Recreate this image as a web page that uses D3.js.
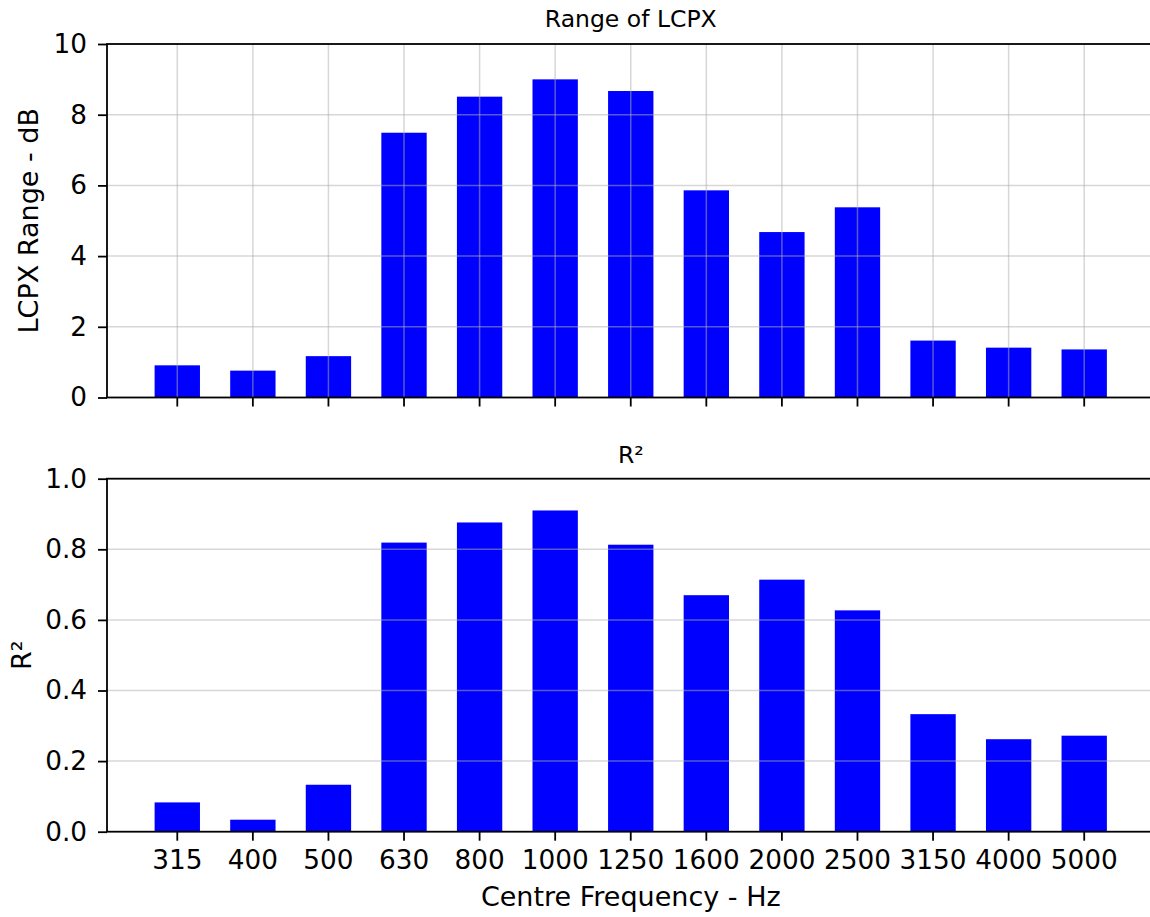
<!DOCTYPE html>
<html>
<head>
<meta charset="utf-8">
<script src="https://cdn.jsdelivr.net/npm/d3@7"></script>
<style>
  body { margin: 0; background: #fff; }
  svg { display: block; font-family: "DejaVu Sans", sans-serif; }
</style>
</head>
<body>
<svg id="chart" width="1150" height="917"></svg>
<script>
// centre frequencies (Hz)
const frequencies = ["315", "400", "500", "630", "800", "1000", "1250", "1600", "2000", "2500", "3150", "4000", "5000"];
// range of LCPX per band, dB
const lcpxRange = [0.91, 0.76, 1.17, 7.49, 8.51, 9.0, 8.67, 5.86, 4.68, 5.38, 1.61, 1.41, 1.36];
// R squared per band
const rSquared = [0.083, 0.034, 0.133, 0.819, 0.876, 0.910, 0.813, 0.670, 0.714, 0.627, 0.333, 0.262, 0.272];

const topTicks = [0, 2, 4, 6, 8, 10];
const bottomTicks = [0, 0.2, 0.4, 0.6, 0.8, 1.0];

const cfg = {
  left: 107,
  right: 1154.5,
  barColor: "#0000ff",
  gridColor: "#b0b0b0",
  gridOpacity: 0.5,
  spineWidth: 1.8,
  tickLen: 9,
  tickFont: 26.3,
  labelFont: 27,
  titleFont: 23.5,
};

const svg = d3.select("#chart");

const x = d3.scaleBand()
  .domain(frequencies)
  .range([cfg.left, cfg.right])
  .paddingInner(0.4)
  .paddingOuter(0.63);

function drawPanel(opts) {
  const { top, bottom, values, yMax, ticks, fmt, title, titleY, yLabel, yLabelX, vGrid, showXLabels } = opts;
  const y = d3.scaleLinear().domain([0, yMax]).range([bottom, top]);
  const g = svg.append("g");

  // bars first, grid drawn over them like the original
  g.append("g")
    .selectAll("rect")
    .data(values)
    .join("rect")
    .attr("x", (d, i) => x(frequencies[i]))
    .attr("width", x.bandwidth())
    .attr("y", (d) => y(d))
    .attr("height", (d) => y(0) - y(d))
    .attr("fill", cfg.barColor);

  const grid = g.append("g")
    .attr("stroke", cfg.gridColor)
    .attr("stroke-opacity", cfg.gridOpacity)
    .attr("stroke-width", 1.5);
  grid.selectAll("line.h")
    .data(ticks.slice(1, -1))
    .join("line")
    .attr("class", "h")
    .attr("x1", cfg.left)
    .attr("x2", cfg.right)
    .attr("y1", (d) => y(d))
    .attr("y2", (d) => y(d));
  if (vGrid) {
    grid.selectAll("line.v")
      .data(frequencies)
      .join("line")
      .attr("class", "v")
      .attr("x1", (d) => x(d) + x.bandwidth() / 2)
      .attr("x2", (d) => x(d) + x.bandwidth() / 2)
      .attr("y1", top)
      .attr("y2", bottom);
  }

  // y axis
  const yAxis = g.append("g")
    .attr("transform", `translate(${cfg.left},0)`)
    .call(d3.axisLeft(y).tickValues(ticks).tickFormat(fmt).tickSize(cfg.tickLen).tickPadding(11));
  yAxis.select(".domain").remove();

  // x axis
  const xAxis = g.append("g")
    .attr("transform", `translate(0,${bottom})`)
    .call(d3.axisBottom(x).tickSize(cfg.tickLen).tickPadding(10).tickSizeOuter(0));
  xAxis.select(".domain").remove();
  if (!showXLabels) xAxis.selectAll("text").remove();

  [yAxis, xAxis].forEach((a) => {
    a.attr("font-size", null).attr("font-family", null);
    a.selectAll("line").attr("stroke", "#000").attr("stroke-width", cfg.spineWidth);
    a.selectAll("text")
      .attr("fill", "#000")
      .attr("font-size", cfg.tickFont)
      .attr("font-family", "DejaVu Sans");
  });

  // spines (right one falls just outside the picture)
  g.append("rect")
    .attr("x", cfg.left)
    .attr("y", top)
    .attr("width", cfg.right - cfg.left)
    .attr("height", bottom - top)
    .attr("fill", "none")
    .attr("stroke", "#000")
    .attr("stroke-width", cfg.spineWidth);

  g.append("text")
    .attr("x", (cfg.left + cfg.right) / 2)
    .attr("y", titleY)
    .attr("text-anchor", "middle")
    .attr("font-size", cfg.titleFont)
    .text(title);

  g.append("text")
    .attr("transform", `translate(${yLabelX},${(top + bottom) / 2}) rotate(-90)`)
    .attr("text-anchor", "middle")
    .attr("font-size", cfg.labelFont)
    .text(yLabel);
}

drawPanel({
  top: 44, bottom: 397.5, values: lcpxRange, yMax: 10, ticks: topTicks,
  fmt: d3.format("d"), title: "Range of LCPX", titleY: 27,
  yLabel: "LCPX Range - dB", yLabelX: 37.5, vGrid: true, showXLabels: false,
});

drawPanel({
  top: 478.7, bottom: 831.7, values: rSquared, yMax: 1, ticks: bottomTicks,
  fmt: d3.format(".1f"), title: "R²", titleY: 462.5,
  yLabel: "R²", yLabelX: 31, vGrid: false, showXLabels: true,
});

svg.append("text")
  .attr("x", (cfg.left + cfg.right) / 2)
  .attr("y", 906)
  .attr("text-anchor", "middle")
  .attr("font-size", cfg.labelFont)
  .text("Centre Frequency - Hz");
</script>
</body>
</html>
